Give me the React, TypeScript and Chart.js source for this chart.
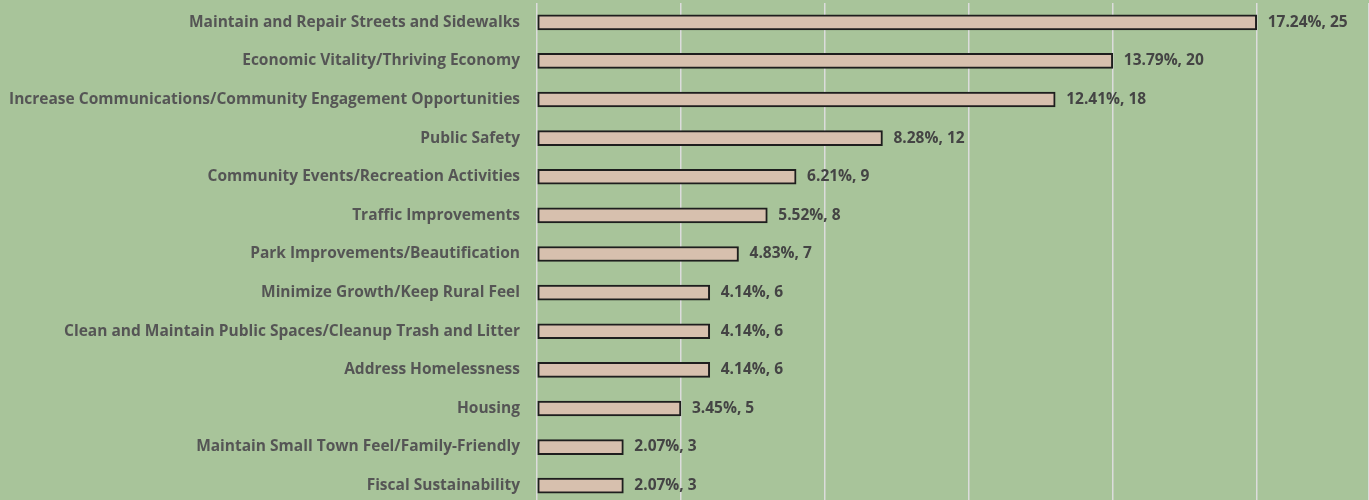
import React, { useEffect, useRef } from "react";
import { Chart, registerables } from "chart.js";

Chart.register(...registerables);

const categories = [
  "Maintain and Repair Streets and Sidewalks",
  "Economic Vitality/Thriving Economy",
  "Increase Communications/Community Engagement Opportunities",
  "Public Safety",
  "Community Events/Recreation Activities",
  "Traffic Improvements",
  "Park Improvements/Beautification",
  "Minimize Growth/Keep Rural Feel",
  "Clean and Maintain Public Spaces/Cleanup Trash and Litter",
  "Address Homelessness",
  "Housing",
  "Maintain Small Town Feel/Family-Friendly",
  "Fiscal Sustainability",
];

const counts = [25, 20, 18, 12, 9, 8, 7, 6, 6, 6, 5, 3, 3];

const percents = [
  "17.24%", "13.79%", "12.41%", "8.28%", "6.21%", "5.52%", "4.83%",
  "4.14%", "4.14%", "4.14%", "3.45%", "2.07%", "2.07%",
];

const FONT = "'Open Sans', Lato, sans-serif";
const TEXT = "#555555";
const VALUE_TEXT = "#444444";

const valueLabels = {
  id: "valueLabels",
  afterDatasetsDraw(chart: any) {
    const ctx = chart.ctx;
    const meta = chart.getDatasetMeta(0);
    ctx.save();
    ctx.font = `bold 15.5px ${FONT}`;
    ctx.fillStyle = VALUE_TEXT;
    ctx.textAlign = "left";
    ctx.textBaseline = "middle";
    meta.data.forEach((bar: any, i: number) => {
      ctx.fillText(`${percents[i]}, ${counts[i]}`, bar.x + 11, bar.y);
    });
    ctx.restore();
  },
};

export default function App() {
  const ref = useRef<HTMLCanvasElement | null>(null);
  useEffect(() => {
    if (!ref.current) return;
    const chart = new Chart(ref.current, {
      type: "bar",
      data: {
        labels: categories,
        datasets: [
          {
            data: counts,
            backgroundColor: "#d7c0ae",
            borderColor: "#1e1e1e",
            borderWidth: 2,
            borderSkipped: false,
            barThickness: 15,
          },
        ],
      },
      options: {
        indexAxis: "y",
        animation: false,
        responsive: false,
        layout: { padding: { top: 3, bottom: 1, left: 0, right: 0 } },
        plugins: {
          legend: { display: false },
          tooltip: { enabled: false },
        },
        scales: {
          x: {
            min: 0,
            max: 28.9,
            ticks: { display: false, stepSize: 5 },
            grid: { color: "#dcdcdc", lineWidth: 1.5, drawTicks: false },
            border: { display: false },
          },
          y: {
            grid: { display: false, drawTicks: false },
            border: { display: false },
            ticks: {
              padding: 17,
              color: TEXT,
              font: { family: FONT, size: 15.5, weight: "bold" },
            },
            afterFit(scale: any) {
              scale.width = 537;
              scale.paddingTop = 0;
              scale.paddingBottom = 0;
            },
          },
        },
      },
      plugins: [valueLabels],
    });
    return () => chart.destroy();
  }, []);
  return (
    <div
      style={{
        position: "fixed",
        left: 0,
        top: 0,
        width: 1369,
        height: 500,
        overflow: "hidden",
        background: "#a8c49a",
      }}
    >
      <canvas ref={ref} width={1369} height={506} style={{ width: 1369, height: 506, display: "block" }} />
    </div>
  );
}
